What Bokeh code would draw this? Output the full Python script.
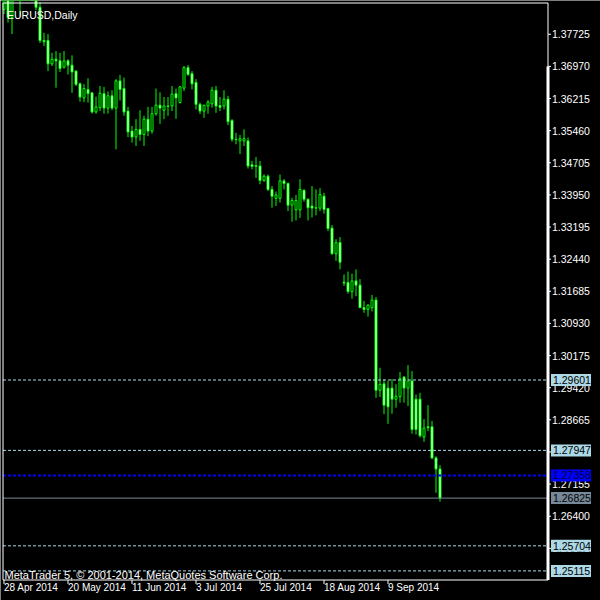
from bokeh.plotting import figure
from bokeh.models import Range1d, ColumnDataSource
from bokeh.core.properties import value
from bokeh.embed import file_html
from bokeh.resources import INLINE

# ---- data (EURUSD daily, 28 Apr 2014 .. 26 Sep 2014) ----
opens = [1.3831, 1.3855, 1.3812, 1.3867, 1.3870, 1.3872, 1.3874, 1.3925, 1.3910, 1.3836,
         1.3758, 1.3758, 1.3703, 1.3714, 1.3710, 1.3695, 1.3710, 1.3700, 1.3686, 1.3656,
         1.3623, 1.3643, 1.3635, 1.3590, 1.3600, 1.3633, 1.3599, 1.3628, 1.3599, 1.3663,
         1.3645, 1.3592, 1.3545, 1.3531, 1.3549, 1.3537, 1.3573, 1.3545, 1.3586, 1.3606,
         1.3594, 1.3604, 1.3604, 1.3633, 1.3612, 1.3646, 1.3694, 1.3680, 1.3659, 1.3608,
         1.3592, 1.3604, 1.3609, 1.3641, 1.3605, 1.3604, 1.3620, 1.3570, 1.3526, 1.3522,
         1.3522, 1.3522, 1.3466, 1.3462, 1.3463, 1.3429, 1.3439, 1.3408, 1.3387, 1.3387,
         1.3428, 1.3422, 1.3371, 1.3360, 1.3360, 1.3406, 1.3385, 1.3369, 1.3364, 1.3364,
         1.3392, 1.3363, 1.3317, 1.3257, 1.3283, 1.3190, 1.3189, 1.3168, 1.3193, 1.3183,
         1.3130, 1.3126, 1.3130, 1.3148, 1.2936, 1.2951, 1.2941, 1.2941, 1.2915, 1.2921,
         1.2967, 1.2941, 1.2958, 1.2915, 1.2915, 1.2826, 1.2850, 1.2850, 1.2777, 1.2751]
highs = [1.3887, 1.3866, 1.3878, 1.3889, 1.3889, 1.3905, 1.3950, 1.3935, 1.3993, 1.3848,
         1.3776, 1.3773, 1.3729, 1.3733, 1.3729, 1.3733, 1.3714, 1.3723, 1.3688, 1.3659,
         1.3655, 1.3669, 1.3635, 1.3626, 1.3651, 1.3649, 1.3638, 1.3641, 1.3667, 1.3677,
         1.3671, 1.3602, 1.3557, 1.3573, 1.3594, 1.3581, 1.3602, 1.3602, 1.3645, 1.3636,
         1.3625, 1.3625, 1.3651, 1.3645, 1.3651, 1.3698, 1.3700, 1.3686, 1.3667, 1.3612,
         1.3606, 1.3618, 1.3649, 1.3651, 1.3625, 1.3641, 1.3628, 1.3573, 1.3541, 1.3536,
         1.3549, 1.3530, 1.3475, 1.3484, 1.3475, 1.3443, 1.3443, 1.3416, 1.3403, 1.3443,
         1.3432, 1.3424, 1.3388, 1.3395, 1.3432, 1.3408, 1.3386, 1.3416, 1.3408, 1.3411,
         1.3400, 1.3365, 1.3324, 1.3291, 1.3296, 1.3208, 1.3215, 1.3210, 1.3220, 1.3197,
         1.3146, 1.3138, 1.3160, 1.3155, 1.2989, 1.2962, 1.2958, 1.2962, 1.2950, 1.2979,
         1.2969, 1.2995, 1.2981, 1.2926, 1.2930, 1.2868, 1.2901, 1.2864, 1.2781, 1.2760]
lows = [1.3820, 1.3800, 1.3773, 1.3858, 1.3814, 1.3851, 1.3865, 1.3876, 1.3829, 1.3752,
        1.3745, 1.3686, 1.3698, 1.3647, 1.3684, 1.3692, 1.3678, 1.3635, 1.3651, 1.3614,
        1.3613, 1.3612, 1.3586, 1.3586, 1.3592, 1.3586, 1.3586, 1.3594, 1.3502, 1.3617,
        1.3581, 1.3531, 1.3518, 1.3510, 1.3522, 1.3510, 1.3533, 1.3539, 1.3581, 1.3562,
        1.3573, 1.3581, 1.3592, 1.3574, 1.3610, 1.3639, 1.3675, 1.3643, 1.3596, 1.3585,
        1.3576, 1.3586, 1.3600, 1.3588, 1.3592, 1.3596, 1.3559, 1.3520, 1.3514, 1.3491,
        1.3510, 1.3457, 1.3455, 1.3435, 1.3420, 1.3426, 1.3404, 1.3365, 1.3369, 1.3377,
        1.3408, 1.3357, 1.3332, 1.3335, 1.3341, 1.3379, 1.3335, 1.3342, 1.3347, 1.3357,
        1.3351, 1.3310, 1.3254, 1.3240, 1.3220, 1.3181, 1.3163, 1.3151, 1.3157, 1.3130,
        1.3118, 1.3109, 1.3121, 1.2918, 1.2920, 1.2880, 1.2857, 1.2881, 1.2895, 1.2907,
        1.2907, 1.2899, 1.2834, 1.2832, 1.2825, 1.2815, 1.2840, 1.2774, 1.2695, 1.2674]
closes = [1.3855, 1.3812, 1.3867, 1.3870, 1.3872, 1.3874, 1.3925, 1.3910, 1.3836, 1.3758,
          1.3755, 1.3703, 1.3714, 1.3710, 1.3692, 1.3710, 1.3700, 1.3684, 1.3655, 1.3625,
          1.3645, 1.3633, 1.3590, 1.3602, 1.3634, 1.3599, 1.3628, 1.3599, 1.3663, 1.3643,
          1.3590, 1.3543, 1.3531, 1.3549, 1.3537, 1.3573, 1.3545, 1.3586, 1.3606, 1.3599,
          1.3604, 1.3603, 1.3632, 1.3623, 1.3649, 1.3694, 1.3678, 1.3656, 1.3608, 1.3592,
          1.3606, 1.3613, 1.3641, 1.3604, 1.3601, 1.3620, 1.3567, 1.3526, 1.3525, 1.3527,
          1.3527, 1.3463, 1.3462, 1.3464, 1.3429, 1.3439, 1.3408, 1.3392, 1.3395, 1.3428,
          1.3422, 1.3371, 1.3382, 1.3382, 1.3408, 1.3385, 1.3365, 1.3364, 1.3365, 1.3396,
          1.3361, 1.3316, 1.3257, 1.3283, 1.3237, 1.3188, 1.3168, 1.3193, 1.3183, 1.3130,
          1.3126, 1.3136, 1.3148, 1.2936, 1.2950, 1.2901, 1.2897, 1.2915, 1.2922, 1.2963,
          1.2941, 1.2958, 1.2844, 1.2844, 1.2829, 1.2847, 1.2848, 1.2777, 1.2751, 1.26825]

price_ticks = [1.25645, 1.26400, 1.27155, 1.27910, 1.28665, 1.29420, 1.30175, 1.30930,
               1.31685, 1.32440, 1.33195, 1.33950, 1.34705, 1.35460, 1.36215, 1.36970, 1.37725]
date_tick_bars = [0, 16, 32, 48, 64, 80, 96]
date_tick_labels = ["28 Apr 2014", "20 May 2014", "11 Jun 2014", "3 Jul 2014",
                    "25 Jul 2014", "18 Aug 2014", "9 Sep 2014"]

level_prices = [1.29601, 1.27947, 1.27358, 1.26825, 1.25704, 1.25115]
level_colors = ["#ADD8E6", "#ADD8E6", "#0000FF", "#778899", "#ADD8E6", "#ADD8E6"]
level_dashes = ["3 2", "3 2", "3 2", "solid", "3 2", "3 2"]
level_widths = [1, 1, 2, 1, 1, 1]
level_text_colors = ["#000000", "#000000", "#000033", "#000000", "#000000", "#000000"]

price_low, price_high = 1.24901, 1.38460      # visible price window of the chart
bar_low, bar_high = -0.25, 136.0              # visible bar window of the chart
marker_price = 1.36970

chart_title = "EURUSD,Daily"
copyright_text = "MetaTrader 5, \u00a9 2001-2014, MetaQuotes Software Corp."

# ---- layout (canvas pixels) ----
W, H = 600, 600
CX0, CX1 = 2.5, 547.5      # chart box left / right
CY0, CY1 = 2.5, 579.5      # chart box top / bottom
ppb = (CX1 - CX0) / (bar_high - bar_low)       # px per bar
ppp = (CY1 - CY0) / (price_high - price_low)   # px per price unit


def dx(px):
    return px / ppb


def dy(px):
    return px / ppp


FONT = value("Liberation Sans")
GREEN = "#00FF00"

p = figure(width=W, height=H, output_backend="svg", toolbar_location=None,
           x_range=Range1d(bar_low - dx(CX0), bar_high + dx(W - CX1)),
           y_range=Range1d(price_low - dy(H - CY1), price_high + dy(CY0)),
           x_axis_location=None, y_axis_location=None,
           background_fill_color="black", border_fill_color="black",
           min_border=0, outline_line_color=None)
p.grid.visible = False

# ---- candles ----
idx = list(range(len(opens)))
tops = [max(o, c) for o, c in zip(opens, closes)]
bots = [min(o, c) for o, c in zip(opens, closes)]
fills = ["white" if c < o else "black" for o, c in zip(opens, closes)]
src = ColumnDataSource(dict(x=idx, high=highs, low=lows, top=tops, bottom=bots, fill=fills))

p.segment(x0="x", y0="low", x1="x", y1="high", source=src, line_color=GREEN, line_width=1)
p.vbar(x="x", width=0.5, top="top", bottom="bottom", source=src,
       fill_color="fill", line_color=GREEN, line_width=1)

# ---- price levels ----
for lp, lc, ld, lw in zip(level_prices, level_colors, level_dashes, level_widths):
    p.segment(x0=[bar_low], x1=[bar_high], y0=[lp], y1=[lp],
              line_color=lc, line_dash=ld, line_width=lw)

# ---- chart border, scale line and ticks ----
p.rect(x=[(bar_low + bar_high) / 2], y=[(price_low + price_high) / 2],
       width=[bar_high - bar_low], height=[price_high - price_low],
       fill_color=None, line_color="white", line_width=1)
p.segment(x0=[bar_high], y0=[marker_price], x1=[bar_high], y1=[price_low],
          line_color="white", line_width=3)

p.segment(x0=[bar_high] * len(price_ticks), x1=[bar_high + dx(3)] * len(price_ticks),
          y0=price_ticks, y1=price_ticks, line_color="white", line_width=1)
p.segment(x0=date_tick_bars, x1=date_tick_bars,
          y0=[price_low] * len(date_tick_bars), y1=[price_low - dy(4)] * len(date_tick_bars),
          line_color="white", line_width=1)

# ---- scale labels ----
p.text(x=[bar_high + dx(4)] * len(price_ticks), y=price_ticks,
       text=[f"{t:.5f}" for t in price_ticks],
       text_font=FONT, text_font_size="10.5px", text_color="white",
       text_baseline="middle", text_align="left")
p.text(x=date_tick_bars, y=[price_low - dy(2)] * len(date_tick_bars), text=date_tick_labels,
       text_font=FONT, text_font_size="10px", text_color="white",
       text_baseline="top", text_align="left")

# ---- level value boxes on the price scale ----
for lp, lc, tc in zip(level_prices, level_colors, level_text_colors):
    p.quad(left=[bar_high + dx(3)], right=[bar_high + dx(43)],
           bottom=[lp - dy(6)], top=[lp + dy(6)],
           fill_color=lc, line_color=None)
    p.text(x=[bar_high + dx(5)], y=[lp], text=[f"{lp:.5f}"],
           text_font=FONT, text_font_size="10.5px", text_color=tc,
           text_baseline="middle", text_align="left")

# ---- texts ----
p.text(x=[bar_low + dx(4)], y=[price_high - dy(11.5)], text=[chart_title],
       text_font=FONT, text_font_size="10.5px", text_color="white",
       text_baseline="alphabetic", text_align="left")
p.text(x=[bar_low + dx(1.5)], y=[price_low + dy(5)], text=[copyright_text],
       text_font=FONT, text_font_size="11px", text_color="white",
       text_baseline="alphabetic", text_align="left")

open("out.html", "w").write(file_html(p, INLINE))
